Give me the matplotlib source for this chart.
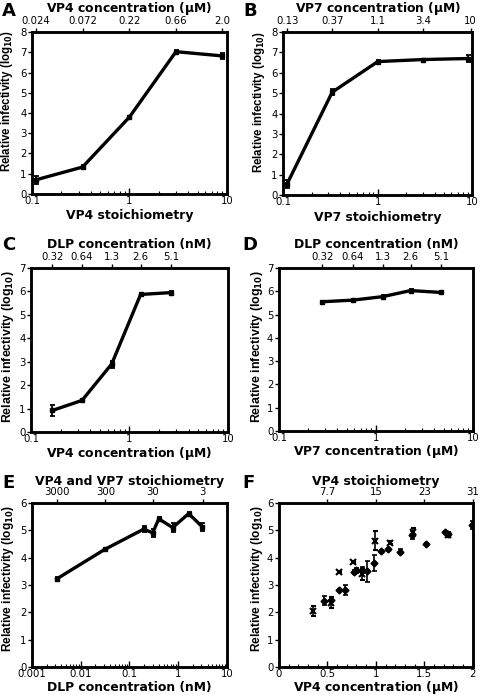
import matplotlib
matplotlib.use("Agg")
import matplotlib.pyplot as plt

plt.rcParams['font.family'] = ['DejaVu Sans']
plt.rcParams['font.size'] = 7.3
plt.rcParams['mathtext.default'] = 'regular'

# Panel A: VP4 stoichiometry
a_x = [0.11, 0.33, 1.0, 3.0, 9.0]
a_y = [0.70, 1.33, 3.80, 7.03, 6.82]
a_err = [0.20, 0.08, 0.06, 0.06, 0.15]
a_top = ['0.024', '0.072', '0.22', '0.66', '2.0']

# Panel B: VP7 stoichiometry
b_x = [0.11, 0.33, 1.0, 3.0, 9.0]
b_y = [0.55, 5.05, 6.55, 6.65, 6.70]
b_err = [0.20, 0.15, 0.08, 0.05, 0.15]
b_top = ['0.13', '0.37', '1.1', '3.4', '10']

# Panel C: VP4 concentration with DLP concentration
c_x = [0.165, 0.33, 0.66, 1.30, 2.64]
c_y = [0.92, 1.35, 2.90, 5.87, 5.95]
c_err = [0.25, 0.06, 0.15, 0.05, 0.08]
dlp_top = ['0.32', '0.64', '1.3', '2.6', '5.1']

# Panel D: VP7 concentration with DLP concentration
d_x = [0.28, 0.58, 1.18, 2.28, 4.72]
d_y = [5.55, 5.62, 5.77, 6.03, 5.95]
d_err = [0.04, 0.04, 0.05, 0.05, 0.08]

# Panel E: DLP concentration
e_x = [0.0032, 0.031, 0.195, 0.30, 0.40, 0.77, 1.64, 3.12]
e_y = [3.22, 4.30, 5.04, 4.91, 5.42, 5.10, 5.61, 5.13]
e_err = [0.08, 0.04, 0.10, 0.15, 0.05, 0.15, 0.05, 0.15]
e_top_pos = [0.0032, 0.032, 0.30, 3.2]
e_top = ['3000', '300', '30', '3']

# Panel F: VP4 concentration, two series
f1_x = [0.47, 0.54, 0.62, 0.68, 0.77, 0.80, 0.86, 0.91, 0.98, 1.05, 1.13,
        1.245, 1.37, 1.52, 1.71, 1.74, 1.99]
f1_y = [2.43, 2.46, 2.82, 2.82, 3.48, 3.53, 3.55, 3.50, 3.80, 4.23, 4.30,
        4.22, 4.82, 4.49, 4.92, 4.88, 5.19]
f1_err = [0.15, 0.10, 0.05, 0.18, 0.08, 0.10, 0.12, 0.38, 0.28, 0.05, 0.06,
          0.08, 0.15, 0.04, 0.05, 0.06, 0.15]
f2_x = [0.35, 0.54, 0.62, 0.765, 0.86, 0.99, 1.15, 1.385, 1.74]
f2_y = [2.05, 2.35, 3.47, 3.85, 3.40, 4.62, 4.55, 4.95, 4.82]
f2_err = [0.18, 0.20, 0.03, 0.04, 0.20, 0.35, 0.06, 0.12, 0.06]
f_top_pos = [0.5, 1.0, 1.5, 2.0]
f_top = ['7.7', '15', '23', '31']

ylab = r'Relative infectivity (log$_{\mathbf{10}}$)'
lab_kw = dict(fontweight='bold', fontsize=8.9)

fig = plt.figure(figsize=(4.8, 6.95), dpi=100)
PX = 0.72  # points per pixel at dpi 100


def axis_label(ax, text, where, off_px):
    # place an x-axis title a fixed number of pixels above/below the axes
    yf = 1 if where == 'top' else 0
    sign = 1 if where == 'top' else -1
    ax.annotate(text, (0.5, yf), xycoords='axes fraction',
                xytext=(0, sign * off_px * PX), textcoords='offset points',
                ha='center', va='center', **lab_kw)


def style(ax, ysize, ypos, yoff):
    for s in ax.spines.values():
        s.set_linewidth(1.8)
    ax.yaxis.set_major_locator(matplotlib.ticker.MultipleLocator(1))
    ax.tick_params(axis='y', which='both', direction='out', length=3, width=1, pad=1)
    ax.tick_params(axis='x', which='major', direction='in', length=4, width=1, pad=1.5)
    ax.tick_params(axis='x', which='minor', direction='in', length=2.5, width=0.8)
    ax.set_ylabel(ylab, fontweight='bold', fontsize=ysize,
                  family=['Liberation Sans', 'DejaVu Sans'])
    w = ax.get_position().width * fig.bbox.width
    ax.yaxis.set_label_coords(-yoff / w, ypos)


def top_axis(ax, pos, labels, label, off):
    t = ax.twiny()
    t.set_xscale(ax.get_xscale())
    t.set_xlim(ax.get_xlim())
    t.set_xticks(pos)
    t.set_xticklabels(labels)
    t.xaxis.set_minor_locator(matplotlib.ticker.NullLocator())
    t.tick_params(axis='x', direction='out', length=3, width=1, pad=1)
    for s in t.spines.values():
        s.set_linewidth(1.8)
    axis_label(ax, label, 'top', off)
    return t


def line_panel(rect, x, y, err, xlim, ylim, xlabel, off, ysize, ypos, yoff):
    ax = fig.add_axes(rect)
    ax.errorbar(x, y, yerr=err, color='black', lw=2.4, marker='s', ms=3,
                capsize=1.8, elinewidth=1.3, capthick=1.3)
    ax.set_xscale('log')
    ax.set_xlim(*xlim)
    ax.set_ylim(*ylim)
    ax.set_xticks([10.0 ** k for k in range(-3, 2) if xlim[0] <= 10.0 ** k <= xlim[1]])
    ax.xaxis.set_major_formatter(matplotlib.ticker.FuncFormatter(lambda v, p: '%g' % v))
    axis_label(ax, xlabel, 'bottom', off)
    style(ax, ysize, ypos, yoff)
    return ax


# A
ax = line_panel([0.0667, 0.7209, 0.406, 0.233], a_x, a_y, a_err, (0.1, 10), (0, 8),
                'VP4 stoichiometry', 22, 8.3, 0.574, 17)
top_axis(ax, a_x, a_top, r'VP4 concentration ($\mu$M)', 24)
fig.text(0.004, 0.997, 'A', fontsize=13, fontweight='bold', va='top')

# B
ax = line_panel([0.590, 0.7194, 0.394, 0.2345], b_x, b_y, b_err, (0.1, 10), (0, 8),
                'VP7 stoichiometry', 22, 8.3, 0.574, 16)
top_axis(ax, [0.11, 0.33, 1.0, 3.0, 9.6], b_top, r'VP7 concentration ($\mu$M)', 24)
fig.text(0.506, 0.997, 'B', fontsize=13, fontweight='bold', va='top')

# C
ax = line_panel([0.0646, 0.3784, 0.410, 0.236], c_x, c_y, c_err, (0.1, 10), (0, 7),
                r'VP4 concentration ($\mu$M)', 21, 8.9, 0.518, 15)
top_axis(ax, c_x, dlp_top, 'DLP concentration (nM)', 23)
fig.text(0.004, 0.660, 'C', fontsize=13, fontweight='bold', va='top')

# D
ax = line_panel([0.581, 0.3799, 0.404, 0.2345], d_x, d_y, d_err, (0.1, 10), (0, 7),
                r'VP7 concentration ($\mu$M)', 21, 8.9, 0.52, 14)
top_axis(ax, d_x, dlp_top, 'DLP concentration (nM)', 23)
fig.text(0.504, 0.660, 'D', fontsize=13, fontweight='bold', va='top')

# E
ax = line_panel([0.0667, 0.0403, 0.406, 0.236], e_x, e_y, e_err, (0.001, 10), (0, 6),
                'DLP concentration (nM)', 20.5, 8.6, 0.537, 16)
top_axis(ax, e_top_pos, e_top, 'VP4 and VP7 stoichiometry', 21)
fig.text(0.004, 0.318, 'E', fontsize=13, fontweight='bold', va='top')

# F
ax = fig.add_axes([0.581, 0.0403, 0.404, 0.236])
ax.errorbar(f1_x, f1_y, yerr=f1_err, fmt='D', color='black', ms=3.5,
            capsize=1.8, elinewidth=1.2, capthick=1.2)
ax.errorbar(f2_x, f2_y, yerr=f2_err, fmt='x', color='black', ms=5, mew=1.5,
            capsize=1.8, elinewidth=1.2, capthick=1.2)
ax.set_xlim(0, 2)
ax.set_ylim(0, 6)
ax.set_xticks([0, 0.5, 1, 1.5, 2])
ax.set_xticklabels(['0', '0.5', '1', '1.5', '2'])
ax.xaxis.set_minor_locator(matplotlib.ticker.MultipleLocator(0.1))
axis_label(ax, r'VP4 concentration ($\mu$M)', 'bottom', 20.5)
style(ax, 8.6, 0.54, 14)
top_axis(ax, f_top_pos, f_top, 'VP4 stoichiometry', 21)
fig.text(0.504, 0.318, 'F', fontsize=13, fontweight='bold', va='top')

fig.savefig('out.png', dpi=100)
